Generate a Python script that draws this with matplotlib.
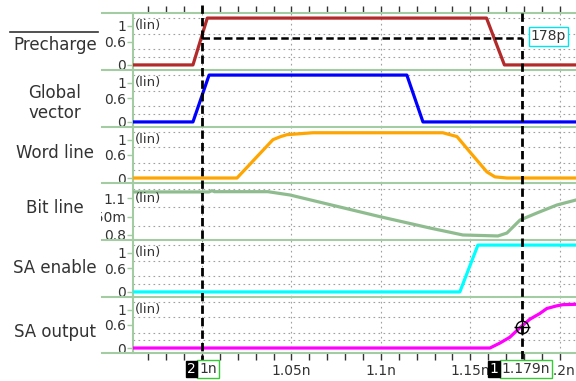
import matplotlib.pyplot as plt
from matplotlib.lines import Line2D
from matplotlib.transforms import blended_transform_factory, Bbox, TransformedBbox

# time in ns
t_start, t_end = 0.9615, 1.209

precharge_t = [0.9615, 0.995, 1.003, 1.159, 1.169, 1.209]
precharge_v = [0, 0, 1.2, 1.2, 0, 0]

global_t = [0.9615, 0.995, 1.004, 1.1145, 1.1235, 1.209]
global_v = [0, 0, 1.2, 1.2, 0, 0]

word_t = [0.9615, 1.0196, 1.0397, 1.0440, 1.0475, 1.062, 1.1346, 1.1425, 1.1497,
          1.155, 1.1592, 1.1637, 1.1704, 1.209]
word_v = [0, 0, 1.0, 1.08, 1.13, 1.18, 1.18, 1.08, 0.68, 0.39, 0.16, 0.03, 0, 0]

bit_t = [0.9615, 1.004, 1.0056, 1.007, 1.0369, 1.0492, 1.0994, 1.1274, 1.1458,
         1.1654, 1.1704, 1.1777, 1.1872, 1.1983, 1.209]
bit_v = [1.152, 1.152, 1.162, 1.154, 1.154, 1.127, 0.95, 0.857, 0.8,
         0.792, 0.816, 0.922, 0.98, 1.045, 1.086]

sa_en_t = [0.9615, 1.1441, 1.1542, 1.209]
sa_en_v = [0, 0, 1.2, 1.2]

sa_out_t = [0.9615, 1.1609, 1.1665, 1.172, 1.1777, 1.1832, 1.1888, 1.1927,
            1.1983, 1.2017, 1.209]
sa_out_v = [0, 0, 0.13, 0.28, 0.53, 0.75, 0.9, 1.03, 1.1, 1.13, 1.14]

names = ["Precharge", "Global\nvector", "Word line", "Bit line", "SA enable", "SA output"]
colors = ["#b22a2a", "#0000ff", "#ffa500", "#8fbc8f", "#00ffff", "#ff00ff"]
traces = [(precharge_t, precharge_v), (global_t, global_v), (word_t, word_v),
          (bit_t, bit_v), (sa_en_t, sa_en_v), (sa_out_t, sa_out_v)]

digital_ticks = [0, 0.6, 1]
digital_labels = ["0", "0.6", "1"]
digital_grid = [0, 0.2, 0.4, 0.6, 0.8, 1.0, 1.2]
bit_ticks = [0.8, 0.95, 1.1]
bit_labels = ["0.8", "950m", "1.1"]
bit_grid = [0.8, 0.875, 0.95, 1.025, 1.1, 1.175]

x_major = [1.0, 1.05, 1.1, 1.15, 1.2]
x_labels = ["", "1.05n", "1.1n", "1.15n", "1.2n"]
x_minor = [0.97, 0.98, 0.99, 1.01, 1.02, 1.03, 1.04, 1.06, 1.07, 1.08, 1.09,
           1.11, 1.12, 1.13, 1.14, 1.16, 1.17, 1.18, 1.19]

cursor2 = 1.0
cursor1 = 1.179
delta_level = 0.68
sa_out_at_cursor = 0.55

W, H = 576, 381
fig = plt.figure(figsize=(W / 100, H / 100), dpi=100)
green = "#a3cca3"
txt = "#333333"
grid_kw = dict(color="#a0a0a0", lw=0.8, linestyle=(0, (1.5, 3)))


def fx(px):
    return px / W


def fy(py):
    return 1 - py / H


panel_px = [13, 70, 127, 183, 240, 297, 353]
left_px = 133
name_y = [0.44, 0.42, 0.53, 0.56, 0.51, 0.37]

axes = []
for i in range(6):
    ax = fig.add_axes([fx(left_px), fy(panel_px[i + 1]), 1 - fx(left_px),
                       (panel_px[i + 1] - panel_px[i]) / H])
    t, v = traces[i]
    ax.plot(t, v, color=colors[i], lw=2.3, zorder=3)
    ax.set_xlim(t_start, t_end)
    if i == 3:
        ax.set_ylim(0.759, 1.225)
        ax.set_yticks(bit_ticks)
        ax.set_yticklabels(bit_labels)
        ax.set_yticks(bit_grid, minor=True)
        lin_y = 1.1
    else:
        ax.set_ylim(-0.13, 1.33)
        ax.set_yticks(digital_ticks)
        ax.set_yticklabels(digital_labels)
        ax.set_yticks(digital_grid, minor=True)
        lin_y = 1.0
    ax.tick_params(axis="y", which="major", direction="out", length=4, width=1,
                   color=green, labelcolor=txt, labelsize=10, pad=1)
    ax.tick_params(axis="y", which="minor", length=0)
    ax.grid(True, which="minor", axis="y", **grid_kw)
    ax.set_xticks(x_major)
    ax.set_xticks(x_minor, minor=True)
    ax.grid(True, which="major", axis="x", **grid_kw)
    ax.tick_params(axis="x", which="both", bottom=False, labelbottom=False,
                   top=False, labeltop=False)
    for s in ["top", "right", "bottom"]:
        ax.spines[s].set_visible(False)
    ax.spines["left"].set_color(green)
    ax.spines["left"].set_linewidth(1.5)
    ax.set_facecolor("white")
    ax.set_axisbelow(True)
    ax.text(0.004, lin_y, "(lin)", fontsize=9.5, color=txt, va="center", ha="left",
            transform=blended_transform_factory(ax.transAxes, ax.transData), zorder=4)
    fig.text(fx(55), 0, names[i], fontsize=12, color=txt, ha="center", va="center",
             linespacing=1.1,
             transform=blended_transform_factory(fig.transFigure, ax.transAxes)
             ).set_y(name_y[i])
    axes.append(ax)

# clip the bit line tick labels at the name column
clip = TransformedBbox(Bbox([[fx(101), 0], [1, 1]]), fig.transFigure)
for lab in axes[3].get_yticklabels():
    lab.set_clip_box(clip)
    lab.set_clip_on(True)

# top ticks
axes[0].tick_params(axis="x", which="both", top=True, direction="out", length=5,
                    width=1, color=txt)
# bottom ticks and labels
bax = axes[-1]
bax.set_xticklabels(x_labels)
bax.tick_params(axis="x", which="both", bottom=True, labelbottom=True, direction="out",
                length=5, width=1, color=txt, labelcolor=txt, labelsize=10, pad=3)

# panel separators
for py in panel_px:
    fig.add_artist(Line2D([fx(102), 1], [fy(py), fy(py)], color=green, lw=1.5))

# overline above Precharge
fig.add_artist(Line2D([fx(10), fx(98)], [fy(32), fy(32)], color=txt, lw=1.2))

# cursors
ctr = blended_transform_factory(axes[0].transData, fig.transFigure)
fig.add_artist(Line2D([cursor2, cursor2], [fy(5), fy(360)], color="black", lw=2,
                      linestyle=(0, (3, 1.5)), transform=ctr, zorder=10))
fig.add_artist(Line2D([cursor1, cursor1], [fy(13), fy(360)], color="black", lw=2,
                      linestyle=(0, (3, 1.5)), transform=ctr, zorder=10))

axes[0].plot([cursor2, cursor1], [delta_level, delta_level], color="black", lw=1.8,
             linestyle=(0, (3, 1.5)), zorder=5)
axes[0].annotate("178p", xy=(cursor1, delta_level + 0.05), xytext=(6, 0),
                 textcoords="offset points", ha="left", va="center", fontsize=10,
                 color=txt, bbox=dict(boxstyle="square,pad=0.15", fc="white",
                                      ec="#00e5ee", lw=1), zorder=6)

axes[5].plot([cursor1], [sa_out_at_cursor], marker="o", ms=9, mfc="none", mec="black",
             mew=1, zorder=6)
axes[5].plot([cursor1], [sa_out_at_cursor], marker="+", ms=12, mec="black", mew=1,
             zorder=6)

gbox = dict(boxstyle="square,pad=0.15", fc="white", ec="#33cc33", lw=1)
kbox = dict(boxstyle="square,pad=0.1", fc="black", ec="black", lw=1)
fig.text(cursor2 - 0.0015, fy(369), "1n", transform=ctr, ha="left", va="center",
         fontsize=10, color=txt, bbox=gbox, zorder=11)
fig.text(cursor2 - 0.0035, fy(369), "2", transform=ctr, ha="right", va="center",
         fontsize=10, color="white", bbox=kbox, zorder=11)
fig.text(cursor1 - 0.0115, fy(369), "1.179n", transform=ctr, ha="left", va="center",
         fontsize=10, color=txt, bbox=gbox, zorder=11)
fig.text(cursor1 - 0.0135, fy(369), "1", transform=ctr, ha="right", va="center",
         fontsize=10, color="white", bbox=kbox, zorder=11)

fig.savefig("out.png", dpi=100, facecolor="white")
